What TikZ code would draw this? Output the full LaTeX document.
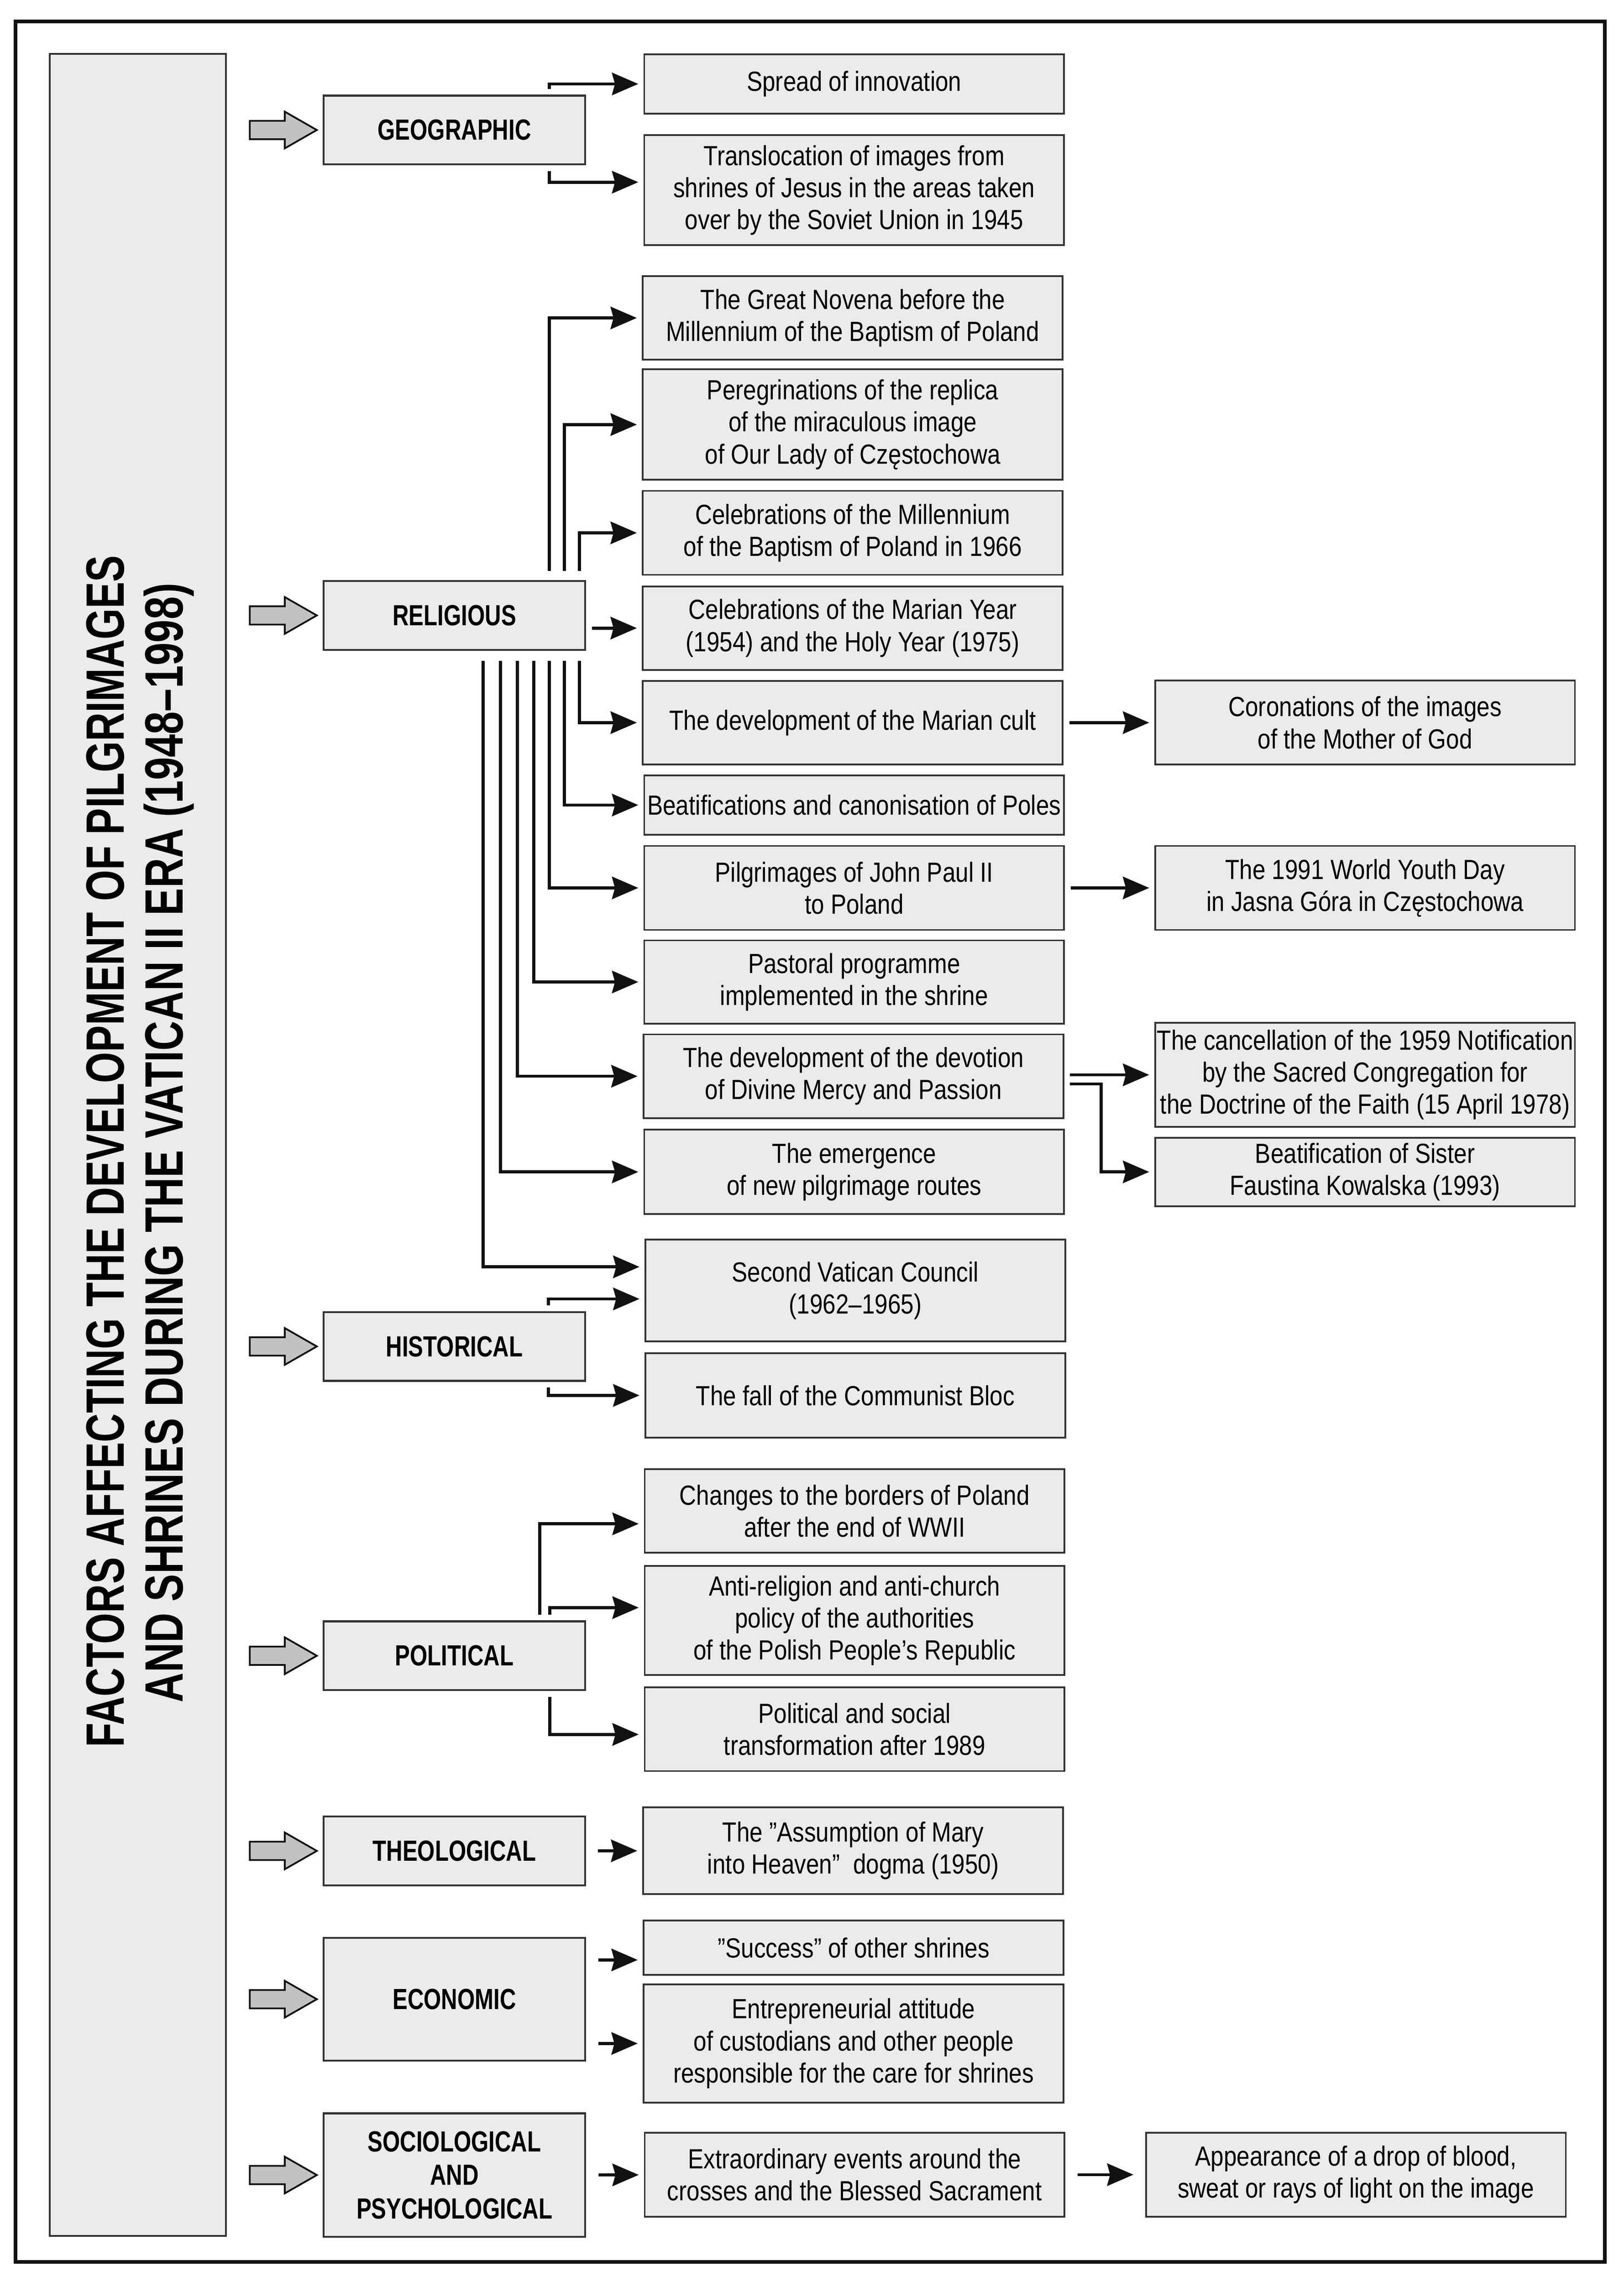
\documentclass[tikz,border=0pt]{standalone}
\usepackage{fontspec}
\setmainfont{Liberation Sans}
\newfontfamily\boxfont{Liberation Sans}[FakeStretch=0.845]
\newfontfamily\catfont{Liberation Sans}[FakeStretch=0.77]
\newfontfamily\titlefont{Liberation Sans}[FakeStretch=0.74]
\newfontfamily\subtitlefont{Liberation Sans}[FakeStretch=0.765]
\usetikzlibrary{arrows.meta}

\definecolor{boxfill}{HTML}{EBEBEB}
\definecolor{boxline}{HTML}{333333}
\definecolor{leadfill}{HTML}{C2C2C2}
\definecolor{ink}{HTML}{111111}

\tikzset{
  item/.style={draw=boxline, line width=1.2pt, fill=boxfill, inner sep=0pt, align=center,
    minimum width=288pt, font=\boxfont\fontsize{19}{22}\selectfont},
  factor/.style={draw=boxline, line width=1.3pt, fill=boxfill, inner sep=0pt, align=center,
    minimum width=179.5pt, minimum height=47.2pt, font=\catfont\bfseries\fontsize{20}{23}\selectfont},
  conn/.style={draw=ink, line width=2.1pt, -{Stealth[length=18pt,width=15.3pt,inset=2pt]},
    shorten >=3.5pt, shorten <=4pt},
  leadarrow/.style={draw=ink, line width=1.2pt, fill=leadfill},
  headline/.style={font=\titlefont\bfseries\fontsize{37}{40}\selectfont, rotate=90, anchor=base, inner sep=0pt}
}

\begin{document}
\begin{tikzpicture}[x=1pt, y=-1pt]
  \useasboundingbox (0,0) rectangle (1114,1565.7);
  \draw[line width=2.5pt, draw=ink] (10.6,14.7) rectangle (1101,1552);

  % title
  \node[draw=boxline, line width=1.3pt, fill=boxfill, minimum width=121pt, minimum height=1497pt, inner sep=0pt] (titlebox) at (94.5,785.5) {};
  \node[headline] (head1) at (85.1,790) {FACTORS AFFECTING THE DEVELOPMENT OF PILGRIMAGES};
  \node[headline, font=\subtitlefont\bfseries\fontsize{37}{40}\selectfont] (head2) at (125.5,784) {AND SHRINES DURING THE VATICAN II ERA (1948–1998)};

  % factors
  \node[factor] (geo)   at (311.75,89.2)   {GEOGRAPHIC};
  \node[factor] (rel)   at (311.75,422.25) {RELIGIOUS};
  \node[factor] (hist)  at (311.75,923.8)  {HISTORICAL};
  \node[factor] (pol)   at (311.75,1136)   {POLITICAL};
  \node[factor] (theo)  at (311.75,1269.9) {THEOLOGICAL};
  \node[factor, minimum height=84.3pt] (econ)  at (311.75,1371.65) {ECONOMIC};
  \node[factor, minimum height=84.6pt] (socio) at (311.75,1492.3)  {SOCIOLOGICAL\\AND\\PSYCHOLOGICAL};

  \foreach \n in {geo,rel,hist,pol,theo,econ,socio}
    \draw[leadarrow] ([xshift=-4pt]\n.west) -- ++(-22,-12.6) -- ++(0,6.3) -- ++(-24,0)
      -- ++(0,12.6) -- ++(24,0) -- ++(0,6.3) -- cycle;

  % second column
  \node[item, minimum height=40.8pt] (spread)     at (586,57.6)    {Spread of innovation};
  \node[item, minimum height=75.5pt] (transl)     at (586,130.45)  {Translocation of images from\\shrines of Jesus in the areas taken\\over by the Soviet Union in 1945};
  \node[item, minimum height=57.3pt] (novena)     at (585,218.15)  {The Great Novena before the\\Millennium of the Baptism of Poland};
  \node[item, minimum height=75.8pt] (peregr)     at (585,291.3)   {Peregrinations of the replica\\of the miraculous image\\of Our Lady of Częstochowa};
  \node[item, minimum height=57.6pt] (millen)     at (585,365.6)   {Celebrations of the Millennium\\of the Baptism of Poland in 1966};
  \node[item, minimum height=57.3pt] (marianyear) at (585,430.95)  {Celebrations of the Marian Year\\(1954) and the Holy Year (1975)};
  \node[item, minimum height=57.2pt] (marcult)    at (585,495.8)   {The development of the Marian cult};
  \node[item, minimum height=40.7pt] (beatif)     at (586,552.35)  {Beatifications and canonisation of Poles};
  \node[item, minimum height=57.6pt] (pilgr)      at (586,609.2)   {Pilgrimages of John Paul II\\to Poland};
  \node[item, minimum height=57.1pt] (pastoral)   at (586,673.75)  {Pastoral programme\\implemented in the shrine};
  \node[item, minimum height=57.4pt] (mercy)      at (585.5,738.4) {The development of the devotion\\of Divine Mercy and Passion};
  \node[item, minimum height=57.9pt] (emerg)      at (586,804.05)  {The emergence\\of new pilgrimage routes};
  \node[item, minimum height=69.8pt] (vatican)    at (586.8,885.5) {Second Vatican Council\\(1962–1965)};
  \node[item, minimum height=57.8pt] (fall)       at (586.8,957.4) {The fall of the Communist Bloc};
  \node[item, minimum height=57.3pt] (borders)    at (586.3,1036.65) {Changes to the borders of Poland\\after the end of WWII};
  \node[item, minimum height=74.7pt] (antirel)    at (586.3,1111.85) {Anti-religion and anti-church\\policy of the authorities\\of the Polish People’s Republic};
  \node[item, minimum height=57.5pt] (transform)  at (586.3,1186.35) {Political and social\\transformation after 1989};
  \node[item, minimum height=59.7pt] (assumption) at (585.3,1269.75) {The ”Assumption of Mary\\into Heaven”\ \ dogma (1950)};
  \node[item, minimum height=37.3pt] (success)    at (585.6,1336.25) {”Success” of other shrines};
  \node[item, minimum height=81.3pt] (entrep)     at (585.6,1402.05) {Entrepreneurial attitude\\of custodians and other people\\responsible for the care for shrines};
  \node[item, minimum height=57.7pt] (extra)      at (586.3,1492.05) {Extraordinary events around the\\crosses and the Blessed Sacrament};

  % third column
  \node[item, minimum height=57.6pt] (coron)  at (936.5,495.8)   {Coronations of the images\\of the Mother of God};
  \node[item, minimum height=57.6pt] (wyd)    at (936.5,609.2)   {The 1991 World Youth Day\\in Jasna Góra in Częstochowa};
  \node[item, minimum height=71.3pt] (cancel) at (936.5,737.45)  {The cancellation of the 1959 Notification\\by the Sacred Congregation for\\the Doctrine of the Faith (15 April 1978)};
  \node[item, minimum height=46.9pt] (sister) at (936.5,804.05)  {Beatification of Sister\\Faustina Kowalska (1993)};
  \node[item, minimum height=57.7pt] (appear) at (930.2,1492.05) {Appearance of a drop of blood,\\sweat or rays of light on the image};

  % geographic
  \coordinate (translin) at ([yshift=5.45pt]transl.west);
  \draw[conn] ([xshift=-25.4pt]geo.north east) |- (spread.west);
  \draw[conn] ([xshift=-25.4pt]geo.south east) |- (translin);

  % religious
  \draw[conn, shorten <=6.3pt] ([xshift=-25.3pt]rel.north east) |- (novena.west);
  \draw[conn, shorten <=6.3pt] ([xshift=-15pt]rel.north east)   |- (peregr.west);
  \draw[conn, shorten <=6.3pt] ([xshift=-4.7pt]rel.north east)  |- (millen.west);
  \draw[conn] (rel.east |- marianyear.west) -- (marianyear.west);
  \foreach \dx/\tgt in {4.7pt/marcult, 15pt/beatif, 25.3pt/pilgr, 36pt/pastoral, 47.3pt/mercy, 58.9pt/emerg}
    \draw[conn, shorten <=6.8pt] ([xshift=-\dx]rel.south east) |- (\tgt.west);
  \coordinate (vatin1) at ([yshift=16.3pt]vatican.west);
  \draw[conn, shorten <=6.8pt] ([xshift=-70.8pt]rel.south east) |- (vatin1);

  \draw[conn] (marcult) -- (coron);
  \draw[conn] (pilgr) -- (wyd);
  \draw[conn] (mercy.east |- cancel.west) -- (cancel.west);
  \coordinate (mercyout) at ([yshift=-5.3pt]mercy.east);
  \draw[conn] (mercyout) -- ++(right:25.3pt) |- (sister.west);

  % historical
  \coordinate (vatin2) at ([yshift=-5.7pt]vatican.west);
  \draw[conn] ([xshift=-25.9pt]hist.north east) |- (vatin2);
  \draw[conn] ([xshift=-25.9pt]hist.south east) |- (fall.west);

  % political
  \coordinate (bordin)  at ([yshift=-8.85pt]borders.west);
  \coordinate (antiin)  at ([yshift=8.85pt]antirel.west);
  \coordinate (transin) at ([yshift=-3.65pt]transform.west);
  \draw[conn] ([xshift=-31.8pt]pol.north east) |- (bordin);
  \draw[conn] ([xshift=-24.9pt]pol.north east) |- (antiin);
  \draw[conn] ([xshift=-24.9pt]pol.south east) |- (transin);

  % theological, economic, sociological
  \draw[conn, shorten <=8pt] (theo) -- (assumption);
  \coordinate (succin) at ([yshift=-8.45pt]success.west);
  \draw[conn, shorten <=8.5pt] (econ.east |- succin) -- (succin);
  \draw[conn, shorten <=8.5pt] (econ.east |- entrep.west) -- (entrep.west);
  \draw[conn, shorten <=8.5pt] (socio) -- (extra);
  \draw[conn, shorten <=8.5pt, shorten >=8pt] (extra) -- (appear);
\end{tikzpicture}
\end{document}
